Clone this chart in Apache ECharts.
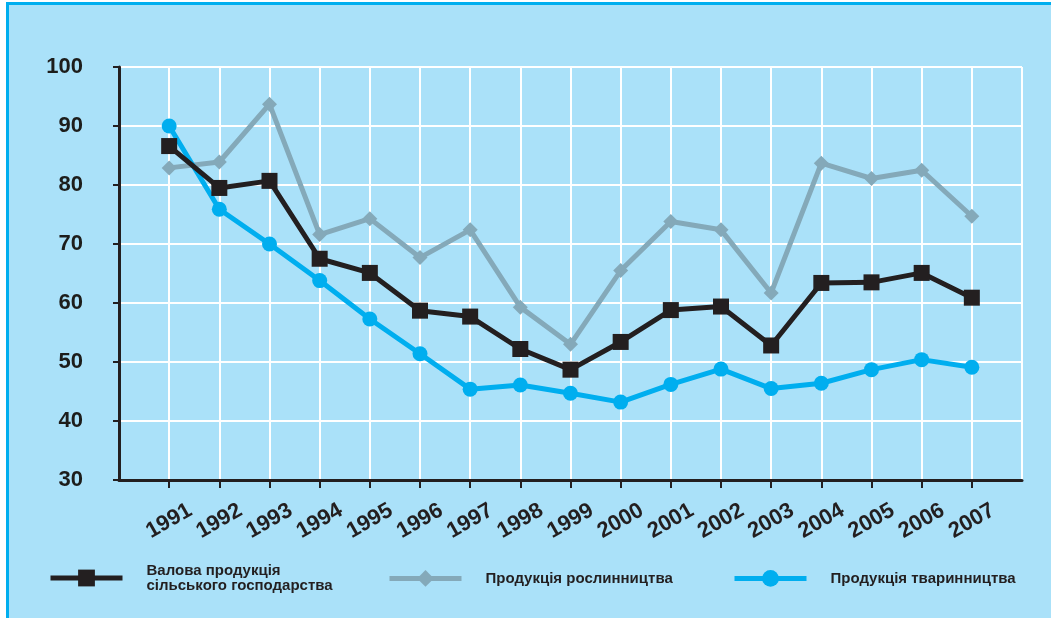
<!DOCTYPE html>
<html>
<head>
    <meta charset="utf-8">
    <title>Індекси виробництва продукції сільського господарства</title>
    <script src="https://cdn.jsdelivr.net/npm/echarts@6/dist/echarts.min.js"></script>
    <style>
        body { margin: 0; background: #ffffff; }
        /* синя рамка зверху і зліва */
        #frame { position: absolute; left: 6px; top: 2px; width: 1060px; height: 630px;
                 border-left: 3px solid #00aeef; border-top: 3px solid #00aeef; background: #aae1f9; }
        #chart { position: absolute; left: 0; top: 0; width: 1051px; height: 618px; }
    </style>
</head>
<body>
<div id="frame"></div>
<div id="chart"></div>
<script type="text/javascript">
    // роки
    var years = ['1991','1992','1993','1994','1995','1996','1997','1998','1999',
                 '2000','2001','2002','2003','2004','2005','2006','2007'];
    // Валова продукція сільського господарства
    var grossValues = [86.6, 79.5, 80.7, 67.5, 65.1, 58.7, 57.7, 52.2, 48.7,
                       53.4, 58.8, 59.4, 52.8, 63.4, 63.5, 65.1, 60.9];
    // Продукція рослинництва
    var cropValues = [82.9, 83.9, 93.7, 71.6, 74.3, 67.7, 72.4, 59.3, 53.0,
                      65.5, 73.8, 72.4, 61.7, 83.7, 81.1, 82.5, 74.7];
    // Продукція тваринництва
    var animalValues = [90.0, 75.9, 70.0, 63.8, 57.3, 51.4, 45.4, 46.1, 44.7,
                        43.2, 46.2, 48.8, 45.5, 46.4, 48.7, 50.4, 49.1];
    var yTicks = { min: 30, max: 100, step: 10 };

    var names = ['Валова продукція\nсільського господарства', 'Продукція рослинництва', 'Продукція тваринництва'];

    // порожні крайні категорії, щоб 1991 стояв на першій поділці
    var categories = [''].concat(years, ['']);
    function pairs(vals) {
        return vals.map(function (v, i) { return [years[i], v]; });
    }

    var font = '"Liberation Sans", Arial, sans-serif';
    var dark = '#231f20';

    function legendAt(left, top, name) {
        return {
            data: [name],
            left: left,
            top: top,
            padding: 0,
            itemWidth: 72,
            itemHeight: 21,
            selectedMode: false,
            lineStyle: { width: 5 },
            textStyle: {
                fontFamily: font, fontWeight: 'bold', fontSize: 15, lineHeight: 15,
                color: dark, padding: [0, 0, 0, 19]
            }
        };
    }

    var myChart = echarts.init(document.getElementById('chart'));
    myChart.setOption({
        backgroundColor: 'transparent',
        animation: false,
        grid: { left: 119, right: 29, top: 67, bottom: 138 },
        legend: [
            legendAt(48, 563, names[0]),
            legendAt(387, 570, names[1]),
            legendAt(732, 570, names[2])
        ],
        xAxis: {
            type: 'category',
            data: categories,
            boundaryGap: false,
            axisLine: { lineStyle: { color: dark, width: 3 } },
            axisTick: {
                length: 8,
                lineStyle: { color: dark, width: 2 },
                interval: function (index) { return index > 0 && index < categories.length - 1; }
            },
            splitLine: { show: true, lineStyle: { color: '#ffffff', width: 2 } },
            axisLabel: {
                interval: 0,
                rotate: 30,
                align: 'center',
                verticalAlign: 'middle',
                margin: 41,
                fontFamily: font, fontWeight: 'bold', fontSize: 22, color: dark
            }
        },
        yAxis: {
            type: 'value',
            min: yTicks.min,
            max: yTicks.max,
            interval: yTicks.step,
            axisLine: { show: true, lineStyle: { color: dark, width: 3 } },
            axisTick: { show: true, length: 6, lineStyle: { color: dark, width: 2 } },
            splitLine: { show: true, lineStyle: { color: '#ffffff', width: 2 } },
            axisLabel: {
                margin: 36,
                fontFamily: font, fontWeight: 'bold', fontSize: 22, color: '#1d1d1b'
            }
        },
        series: [
            {
                name: names[1],
                type: 'line',
                data: pairs(cropValues),
                symbol: 'diamond',
                symbolSize: 15,
                lineStyle: { color: '#84a9b9', width: 5 },
                itemStyle: { color: '#84a9b9' },
                z: 2
            },
            {
                name: names[2],
                type: 'line',
                data: pairs(animalValues),
                symbol: 'circle',
                symbolSize: 15,
                lineStyle: { color: '#00aeef', width: 5 },
                itemStyle: { color: '#00aeef' },
                z: 3
            },
            {
                name: names[0],
                type: 'line',
                data: pairs(grossValues),
                symbol: 'rect',
                symbolSize: 16,
                lineStyle: { color: dark, width: 5 },
                itemStyle: { color: dark },
                z: 4
            }
        ]
    });
</script>
</body>
</html>
